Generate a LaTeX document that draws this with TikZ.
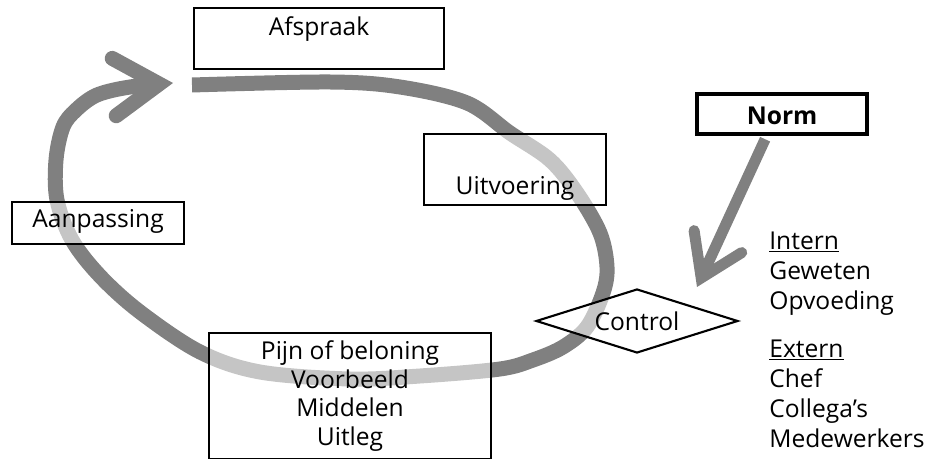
\documentclass[tikz,border=0pt]{standalone}
\usepackage{fontspec}
\setmainfont{Open Sans}
\usetikzlibrary{arrows.meta,shapes.geometric}
\definecolor{arrGrey}{HTML}{808080}

\tikzstyle{tS}=[font=\fontsize{14pt}{17pt}\selectfont]
\tikzstyle{bS}=[draw, line width=1.2pt, fill=white, fill opacity=0.55, text opacity=1, inner sep=0pt, anchor=north west, tS]
\tikzstyle{dS}=[diamond, draw, line width=1.2pt, aspect=3, inner sep=0pt, minimum width=4.04cm, minimum height=1.28cm, fill=white, fill opacity=0.55, text opacity=1, tS]
\tikzstyle{aL}=[draw=arrGrey, line width=0.3cm, -{Straight Barb[length=0.9cm, width=1.15cm, line cap=round, line join=miter]}]
\tikzstyle{aN}=[draw=arrGrey, line width=0.22cm, -{Straight Barb[length=0.8cm, width=1.05cm, line cap=round, line join=miter]}]

\begin{document}
\begin{tikzpicture}[x=0.02cm, y=-0.02cm]
    \useasboundingbox (0,0) rectangle (944,459);
    % the loop, drawn first so the boxes lie over it
    \draw[aL] plot[smooth, tension=0.55] coordinates {(192,85) (330,82) (400,87) (467,103) (510,133) (550,160) (577,193) (600,233) (607,267) (603,293) (587,327) (563,347) (533,360) (500,369) (420,376) (350,379) (260,372) (200,352) (140,312) (100,276) (72,240) (57,200) (56,160) (63,127) (76,110) (97,95) (130,87) (173,83)};
    \coordinate (normTip) at (697,287);
    \draw (193,7) node[bS, minimum width=5cm, text height=0.54cm, text depth=0.68cm] (afspraak) {Afspraak};
    \draw (423,133) node[bS, minimum width=3.64cm, text height=1.2cm, text depth=0.22cm] (uitvoering) {Uitvoering};
    \draw (11,201) node[bS, minimum width=3.44cm, text height=0.5cm, text depth=0.34cm] (aanpassing) {Aanpassing};
    \draw (695,92) node[bS, line width=2.4pt, minimum width=3.4cm, text height=0.6cm, text depth=0.2cm, font=\fontsize{14pt}{17pt}\selectfont\bfseries] (norm) {Norm};
    \draw (208,332) node[bS, minimum width=5.64cm, minimum height=2.52cm, align=center, font=\fontsize{14pt}{0.58cm}\selectfont] (middelen) {Pijn of beloning\\Voorbeeld\\Middelen\\Uitleg};
    \draw (637,321) node[dS] (control) {Control};
    \draw (769,447) node[anchor=base west, align=left, inner sep=0pt, font=\fontsize{14pt}{0.6cm}\selectfont] (soorten) {\underline{Intern}\\Geweten\\Opvoeding\\[0.36cm]\underline{Extern}\\Chef\\Collega’s\\Medewerkers};
    \path
        ([xshift=-0.34cm, yshift=-0.06cm]norm.south) edge[aN] (normTip)
    ;
\end{tikzpicture}
\end{document}
